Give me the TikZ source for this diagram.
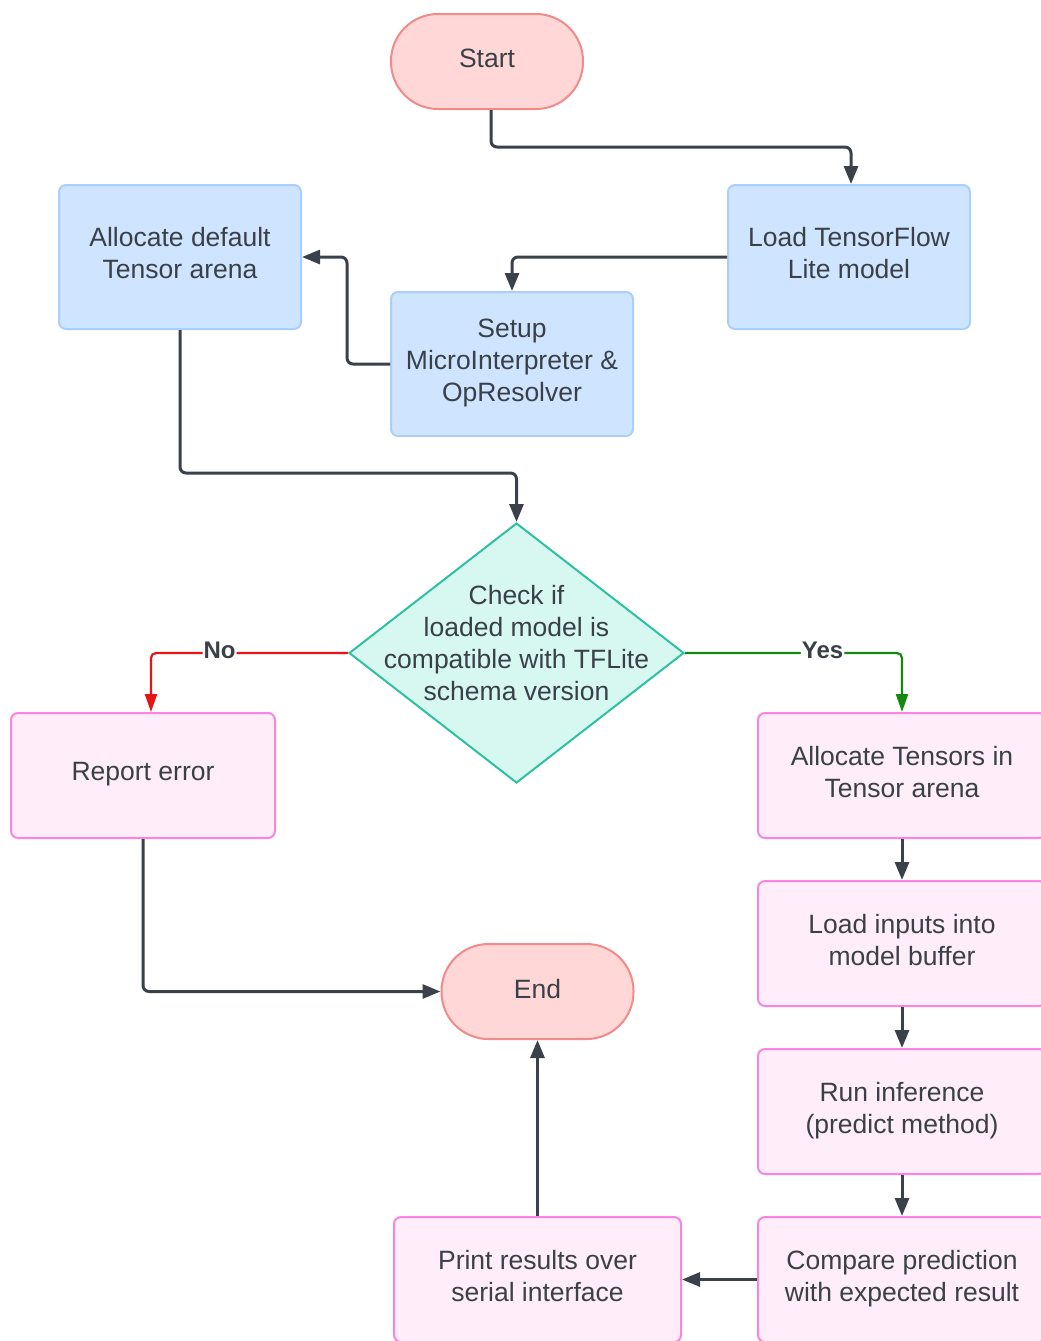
\documentclass[tikz,border=0pt]{standalone}
\usepackage{fontspec}
\setmainfont{Liberation Sans}
\usetikzlibrary{arrows.meta,shapes.geometric}
\definecolor{txtc}{HTML}{394048}
\definecolor{linec}{HTML}{3A414A}
\definecolor{bluef}{HTML}{CFE4FF}
\definecolor{blued}{HTML}{A9CFFA}
\definecolor{pinkf}{HTML}{FFEEFA}
\definecolor{pinkd}{HTML}{FA85E0}
\definecolor{redf}{HTML}{FFD7D7}
\definecolor{redd}{HTML}{F28A8A}
\definecolor{diaf}{HTML}{D7F8F1}
\definecolor{diad}{HTML}{2EC0A2}
\definecolor{nored}{HTML}{E81414}
\definecolor{yesgreen}{HTML}{12890F}
\begin{document}
\begin{tikzpicture}[x=1pt,y=-1pt,
  every node/.style={text=txtc,font=\fontsize{26.5}{32}\selectfont},
  base/.style={draw,line width=2pt,rounded corners=7pt,inner sep=0pt,align=center,text depth=8pt},
  bluebox/.style={base,fill=bluef,draw=blued,minimum width=242pt,minimum height=144pt},
  pinkbox/.style={base,fill=pinkf,draw=pinkd,minimum height=125pt},
  term/.style={draw=redd,fill=redf,line width=2pt,rounded corners=47pt,minimum width=192pt,minimum height=95pt,inner sep=0pt,text depth=6pt},
  dia/.style={diamond,draw=diad,fill=diaf,line width=2pt,minimum width=335pt,minimum height=260pt,inner sep=0pt},
  conn/.style={draw=linec,line width=3pt,rounded corners=6pt,-{Triangle[length=18pt,width=14pt]}},
  thin/.style={draw=#1,line width=2.2pt,rounded corners=5pt,-{Triangle[length=18pt,width=12pt]}},
  lbl/.style={fill=white,inner sep=1pt,font=\bfseries\fontsize{24}{28}\selectfont}
]
\useasboundingbox (0,0) rectangle (1041,1341);
% terminals
\node[term] (start) at (487,61.5) {Start};
\node[term] (end) at (537.5,991.5) {End};
% blue boxes
\node[bluebox] (load) at (849,257) {Load TensorFlow\\Lite model};
\node[bluebox] (alloc) at (180,257) {Allocate default\\Tensor arena};
\node[bluebox] (setup) at (512,364) {Setup\\MicroInterpreter \&\\OpResolver};
% diamond
\node[dia] (chk) at (516.5,653) {};
\node[align=center] (chktxt) at (516.5,643) {Check if\\loaded model is\\compatible with TFLite\\schema version};
% pink boxes
\node[pinkbox,minimum width=264pt] (report) at (143,775.5) {Report error};
\node[pinkbox,minimum width=288pt] (alten) at (902,775.5) {Allocate Tensors in\\Tensor arena};
\node[pinkbox,minimum width=288pt] (inputs) at (902,943.5) {Load inputs into\\model buffer};
\node[pinkbox,minimum width=288pt] (run) at (902,1111.5) {Run inference\\(predict method)};
\node[pinkbox,minimum width=288pt] (cmp) at (902,1279.5) {Compare prediction\\with expected result};
\node[pinkbox,minimum width=287pt] (print) at (537.5,1279.5) {Print results over\\serial interface};
% connectors
\draw[conn] ([xshift=4pt]start.south) |- (671,147) -| ([xshift=2pt]load.north);
\draw[conn] (load.west) -| (setup.north);
\draw[conn] (setup.west) -| (347,310) |- (alloc.east);
\draw[conn] (alloc.south) |- (350,473) -| (chk.north);
\draw[thin=nored] (chk.west) -| ([xshift=8pt]report.north) node[lbl,pos=0.326,yshift=3pt] {No};
\draw[thin=yesgreen] (chk.east) -| (alten.north) node[lbl,pos=0.317,yshift=3pt] {Yes};
\draw[conn] (alten) -- (inputs);
\draw[conn] (inputs) -- (run);
\draw[conn] (run) -- (cmp);
\draw[conn] (cmp) -- (print);
\draw[conn] (print) -- (end);
\draw[conn] (report.south) |- (end.west);
\end{tikzpicture}
\end{document}
